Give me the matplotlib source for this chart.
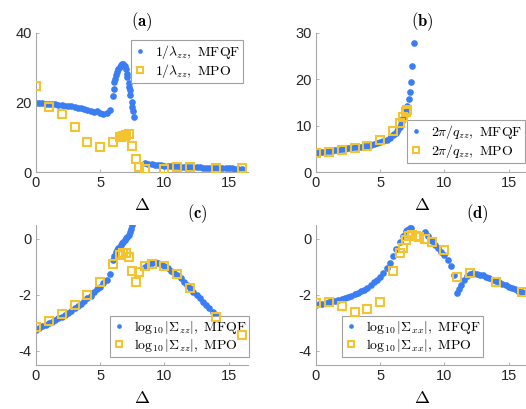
import numpy as np
import matplotlib
matplotlib.use('Agg')
import matplotlib.pyplot as plt

plt.rcParams['mathtext.fontset'] = 'cm'
plt.rcParams['font.family'] = ['Liberation Sans', 'DejaVu Sans']
plt.rcParams['axes.unicode_minus'] = False

BLUE = '#3b7df2'
GOLD = '#f4c430'
AXCOL = '#a8a8a8'

# common Delta grid for the low-Delta part of the MFQF curves
x_low = [0, 0.25, 0.5, 0.75, 1, 1.25, 1.5, 1.75, 2, 2.25, 2.5, 2.75, 3, 3.25,
         3.5, 3.75, 4, 4.25, 4.5, 4.75, 5, 5.25, 5.5, 5.75]
x_high = [8.5, 8.75, 9, 9.25, 9.5, 9.75, 10, 10.25, 10.5, 10.75, 11, 11.25,
          11.5, 11.75, 12, 12.25, 12.5, 12.75, 13, 13.25, 13.5, 13.75, 14,
          14.25, 14.5, 14.75, 15, 15.25, 15.5, 15.75, 16]

# (a) 1/lambda_zz
mfqf_a_x = x_low + [6.0, 6.05, 6.1, 6.15, 6.2, 6.3, 6.4, 6.5, 6.6, 6.7, 6.8,
                    6.9, 7.0, 7.05, 7.1, 7.2, 7.25, 7.3, 7.35, 7.45, 7.5,
                    7.55, 7.6] + x_high
mfqf_a_y = [19.8, 19.8, 19.8, 19.7, 19.6, 19.6, 19.5, 19.4, 19.2, 19.1, 19.0,
            18.9, 18.7, 18.5, 18.3, 18.1, 17.9, 17.6, 17.4, 17.6, 17.0, 16.7,
            16.9, 17.8,
            22.0, 24.0, 25.8, 26.8, 27.8, 28.8, 29.6, 30.2, 30.8, 31.2, 31.0,
            30.5, 29.5, 28.3, 27.4, 25.5, 24.6, 23.5, 22.2, 20.2, 18.8, 17.6,
            15.9,
            2.7, 2.4, 2.2, 2.1, 2.0, 1.9, 1.8, 1.75, 1.7, 1.65, 1.6, 1.55,
            1.5, 1.45, 1.4, 1.38, 1.35, 1.3, 1.28, 1.25, 1.2, 1.18, 1.15,
            1.12, 1.1, 1.07, 1.05, 1.02, 1.0, 0.98, 0.95]
mpo_a_x = [0, 1, 2, 3, 4, 5, 6, 6.5, 6.6, 6.75, 6.9, 7, 7.25, 7.5, 7.75, 8,
           8.5, 10, 11, 12, 14, 16]
mpo_a_y = [24.7, 18.8, 16.7, 12.9, 8.7, 7.1, 8.5, 10.0, 10.2, 10.4, 10.5,
           10.6, 10.9, 7.6, 3.6, 1.5, 0.9, 0.8, 1.4, 1.5, 1.2, 1.1]

# (b) 2pi/q_zz
mfqf_b_x = x_low + [6.0, 6.1, 6.2, 6.3, 6.4, 6.5, 6.6, 6.7, 6.8, 6.9, 7.0,
                    7.1, 7.2, 7.3, 7.4, 7.5, 7.6]
mfqf_b_y = [4.2, 4.25, 4.35, 4.45, 4.5, 4.6, 4.7, 4.8, 4.9, 5.0, 5.1, 5.2,
            5.3, 5.4, 5.5, 5.6, 5.7, 5.85, 6.0, 6.2, 6.4, 6.7, 7.0, 7.4,
            7.9, 8.2, 8.5, 8.9, 9.3, 9.8, 10.3, 10.9, 11.6, 12.3, 13.1, 14.2,
            15.7, 17.3, 19.4, 22.8, 27.9]
mpo_b_x = [0, 1, 2, 3, 4, 5, 6, 6.5, 6.75, 7, 7.1]
mpo_b_y = [4.2, 4.4, 4.7, 5.2, 5.7, 6.8, 8.9, 10.5, 11.8, 13.0, 13.3]

# (c) log10|Sigma_zz|
mfqf_c_x = x_low + [6.0, 6.1, 6.2, 6.3, 6.4, 6.5, 6.6, 6.7, 6.8, 6.9, 7.0,
                    7.1, 7.2, 7.3, 7.4, 7.5] + x_high
mfqf_c_y = [-3.25, -3.19, -3.12, -3.06, -3.0, -2.95, -2.89, -2.83, -2.77,
            -2.7, -2.63, -2.56, -2.48, -2.4, -2.31, -2.22, -2.12, -2.02,
            -1.91, -1.8, -1.7, -1.58, -1.46, -1.25,
            -0.75, -0.6, -0.48, -0.39, -0.32, -0.27, -0.21, -0.15, -0.09,
            -0.03, 0.02, 0.08, 0.15, 0.24, 0.36, 0.5,
            -1.0, -0.9, -0.84, -0.83, -0.86, -0.91, -0.98, -1.05, -1.13,
            -1.21, -1.29, -1.4, -1.52, -1.64, -1.76, -1.88, -2.0, -2.12,
            -2.24, -2.36, -2.48, -2.6, -2.71, -2.83, -2.95, -3.07, -3.19,
            -3.27, -3.35, -3.42, -3.49]
mpo_c_x = [0, 1, 2, 3, 4, 5, 6, 6.5, 6.75, 7, 7.25, 7.5, 7.75, 8, 8.5, 9, 10,
           11, 12, 14, 16]
mpo_c_y = [-3.13, -2.92, -2.68, -2.36, -2.0, -1.55, -0.89, -0.57, -0.51,
           -0.51, -0.65, -1.13, -1.55, -1.17, -0.95, -0.9, -0.95, -1.26,
           -1.76, -2.77, -3.43]

# (d) log10|Sigma_xx|
mfqf_d_x = x_low + [6.0, 6.25, 6.5, 6.75, 7.0, 7.1, 7.2, 7.3, 7.4] + \
    [8.5, 8.75, 9, 9.25, 9.5, 9.75, 10, 10.25, 10.5, 10.75, 11, 11.15, 11.3,
     11.5, 11.75, 12, 12.25, 12.5, 12.75, 13, 13.25, 13.5, 13.75, 14, 14.25,
     14.5, 14.75, 15, 15.25, 15.5, 15.75, 16]
mfqf_d_y = [-2.36, -2.33, -2.31, -2.28, -2.26, -2.23, -2.2, -2.17, -2.14,
            -2.1, -2.06, -2.02, -1.98, -1.93, -1.87, -1.81, -1.74, -1.65,
            -1.55, -1.45, -1.35, -1.21, -1.05, -0.84,
            -0.6, -0.35, -0.12, 0.1, 0.28, 0.33, 0.37, 0.4, 0.4,
            0.26, 0.1, -0.08, -0.2, -0.33, -0.45, -0.58, -0.75, -0.98, -1.3,
            -1.94, -1.8, -1.65, -1.45, -1.32, -1.25, -1.22, -1.24, -1.27,
            -1.3, -1.35, -1.4, -1.45, -1.5, -1.55, -1.6, -1.65, -1.7, -1.75,
            -1.8, -1.84, -1.88]
mpo_d_x = [0, 1, 2, 3, 4, 5, 6, 6.5, 6.75, 7, 7.25, 7.5, 7.75, 8, 8.5, 9, 10,
           11, 12, 14, 16]
mpo_d_y = [-2.3, -2.24, -2.39, -2.6, -2.5, -2.24, -1.14, -0.51, -0.31, -0.02,
           0.1, 0.14, 0.12, 0.08, 0.0, -0.12, -0.39, -1.35, -1.23, -1.52,
           -1.88]

panels = [
    dict(rect=[36, 172, 212, 139], mx=mfqf_a_x, my=mfqf_a_y, px=mpo_a_x,
         py=mpo_a_y, name=r'1/\lambda_{zz}', ylim=(0, 40), yticks=[0, 20, 40],
         tag='(a)', tagx=0.5, leg=('upper right', (0.976, 0.95))),
    dict(rect=[316, 172, 212, 139], mx=mfqf_b_x, my=mfqf_b_y, px=mpo_b_x,
         py=mpo_b_y, name=r'2\pi/q_{zz}', ylim=(0, 30),
         yticks=[0, 10, 20, 30], tag='(b)', tagx=0.5,
         leg=('lower right', (0.986, 0.065))),
    dict(rect=[36, 365, 212, 140], mx=mfqf_c_x, my=mfqf_c_y, px=mpo_c_x,
         py=mpo_c_y, name=r'\log_{10}|\Sigma_{zz}|', ylim=(-4.5, 0.5),
         yticks=[-4, -2, 0], tag='(c)', tagx=0.76,
         leg=('lower right', (1.005, 0.057))),
    dict(rect=[316, 365, 212, 140], mx=mfqf_d_x, my=mfqf_d_y, px=mpo_d_x,
         py=mpo_d_y, name=r'\log_{10}|\Sigma_{xx}|', ylim=(-4.5, 0.5),
         yticks=[-4, -2, 0], tag='(d)', tagx=0.76,
         leg=('lower right', (0.788, 0.057))),
]

W, H = 526, 409
fig = plt.figure(figsize=(W / 100, H / 100), dpi=100)

for p in panels:
    l, b, w, h = p['rect']
    ax = fig.add_axes([l / W, (H - b) / H, w / W, h / H])
    ax.plot(p['mx'], p['my'], 'o', color=BLUE, ms=4.8, mew=0,
            label=r'$%s,\ \mathrm{MFQF}$' % p['name'])
    # squares sit above the legend box, as in the original figure
    ax.plot(p['px'], p['py'], 's', mfc='none', mec=GOLD, ms=5.2, mew=1.5,
            zorder=6, label=r'$%s,\ \mathrm{MPO}$' % p['name'])
    ax.set_xlim(0, 16.5)
    ax.set_ylim(*p['ylim'])
    ax.set_xticks([0, 5, 10, 15])
    ax.set_yticks(p['yticks'])
    for s in ['top', 'right']:
        ax.spines[s].set_visible(False)
    for s in ['left', 'bottom']:
        ax.spines[s].set_color(AXCOL)
        ax.spines[s].set_linewidth(0.8)
    ax.tick_params(direction='in', length=2.5, width=0.6, color=AXCOL,
                   labelcolor='#262626', labelsize=10.5, pad=3)
    ax.set_xlabel(r'$\Delta$', fontsize=13, labelpad=5)
    ax.text(p['tagx'], 1 + 11 / h, r'$\mathbf{%s}$' % p['tag'],
            transform=ax.transAxes, ha='center', va='center', fontsize=12)
    loc, anchor = p['leg']
    leg = ax.legend(loc=loc, bbox_to_anchor=anchor, fontsize=10,
                    fancybox=False, framealpha=1, edgecolor='#a0a0a0',
                    markerscale=0.7, handlelength=0.9, handletextpad=0.6,
                    borderpad=0.2, labelspacing=0.1, borderaxespad=0)
    leg.get_frame().set_linewidth(0.8)

fig.savefig('out.png', dpi=100)
